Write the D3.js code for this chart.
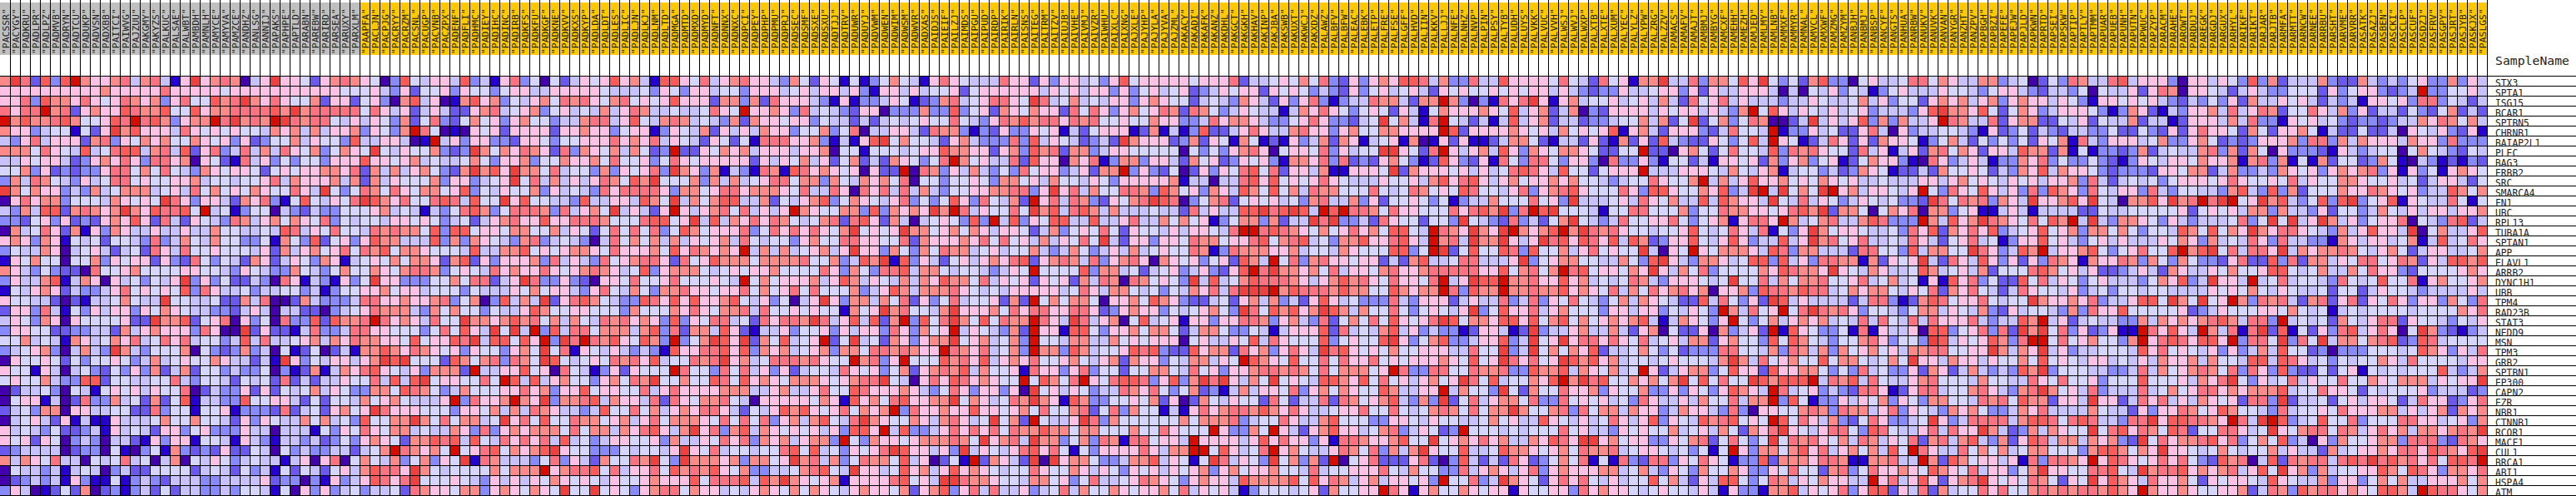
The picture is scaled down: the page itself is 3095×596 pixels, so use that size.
<!DOCTYPE html>
<html><head><meta charset="utf-8">
<script src="https://cdn.jsdelivr.net/npm/d3@7"></script>
<style>html,body{margin:0;padding:0;background:#fff}svg{display:block}</style>
</head><body><div id="chart"></div>
<script>
const levelColors = ["#4500ad","#2700d1","#6b58ef","#8888ff","#c7c1ff","#d5d5ff","#ffc0e5","#ff8989","#ff7080","#ff5a5a","#ef4040","#d60c00"];
const levelKeys = "0123456789ab".split("");
const groupColors = ["#c0c0c0","#ffc800"];
const groupSizes = [36,213];
const geneNames = ["STX3","SPTA1","ISG15","BCAR1","SPTBN5","CHRNB1","BAIAP2L1","PLEC","BAG3","ERBB2","SRC","SMARCA4","FN1","UBC","RPL13","TUBA1A","SPTAN1","APP","ELAVL1","ARRB2","DYNC1H1","UBB","TPM4","RAD23B","STAT3","NEDD9","MSN","TPM3","GRB2","SPTBN1","EP300","CAPN2","EZR","NBR1","CTNNB1","RCOR1","MACF1","CUL1","BRCA1","ABI1","HSPA4","ATM"];
const samplesA = "PACSSR PACYGY PADKRU PADLPR PADLPZ PADMVB PADRYN PADTCU PADUKP PADVSN PADXBB PAITCI PAIWVG PAJZUU PAKGMY PAKYZS PALKUC PALSAE PALWBT PAMBDH PAMNLH PAMYCE PAMYVA PAMZCE PANDHZ PANLSG PANNIJ PAPAKS PAPHPE PAPTLD PARABN".split(" ");
const samplesB = "PAREBW PARIRD PARSEA PARUXY PARXLM PAAPFA PACLJN PACPJG PACRYY PACRZM PACSNL PACUGP PACVNB PACZPX PADENF PADFLI PADHMC PADIEY PADIHC PADINC PADIRB PADKFS PADKFU PADKGF PADKNE PADKVV PADKXS PADKYP PADLDA PADLDT PADLES".split(" ");
const samplesC = "PADLIC PADLJN PADLKJ PADLNM PADLTD PADMGA PADMTD PADMXD PADMYD PADNFT PADNNX PADNXC PADPCI PADPEY PADPHP PADPMU PADPRJ PADSEC PADSMF PADSXE PADSXU PADTJJ PADTRV PADUWR PADUYJ PADVWM PADWEN PADWIM PADWSM PADWVR PADXAS".split(" ");
const samplesD = "PAIDJS PAIEIF PAILZJ PAIMDS PAIPGU PAIPUD PAIRDP PAIRIK PAIRLN PAISNS PAITEG PAITRM PAITZV PAIUJB PAIVHE PAIVMJ PAIVZR PAIWHU PAIXLC PAIXNG PAJXLE PAJYHP PAJYLA PAJYVA PAJZML PAKACY PAKADI PAKAFK PAKANZ PAKDHL PAKGCT".split(" ");
const samplesE = "PAKGKH PAKHAV PAKINP PAKJBA PAKSWB PAKUXT PAKWCJ PAKXDZ PALAWZ PALBFV PALBFW PALEAC PALEBK PALETP PALFRE PALFSE PALGFF PALHVD PALIIN PALKKV PALLJJ PALNFE PALNHZ PALNVP PALPIN PALPSY PALTYB PALUDH PALUYS PALVKK PALVUC".split(" ");
const samplesF = "PALVVH PALWSJ PALWVJ PALWXP PALXTB PALXTE PALXUM PALYEC PALYLZ PALYPW PALZRG PALZZV PAMACS PAMAFV PAMAJT PAMBMJ PAMBYG PAMCXF PAMEHH PAMEZH PAMJED PAMLMY PAMLNB PAMMXF PAMMYR PAMNAL PAMVCL PAMXWF PAMZMG PAMZYM PANBJH".split(" ");
const samplesG = "PANBMJ PANBSP PANCYF PANGTS PANHUA PANRBW PANUKV PANUVK PANVAN PANYGR PANZHT PANZPV PAPBGH PAPBZI PAPEFE PAPEJW PAPJLD PAPKWN PAPRTD PAPSEI PAPSKW PAPTIP PAPTLY PAPTMM PAPUAR PAPUEB PAPUNH PAPUTN PAPWUC PAPZYP PARACM PARAHE PAROWT".split(" ");
const samplesH = "PARDUJ PAREGK PARGDJ PARGUX PARHYL PARIKF PARIKT PARJAR PARJTB PARMFA PARMTT PARNCW PARNEE PARRBU PARSHT PARVME PARVRR PASATK PASAZJ PASBEN PASCKI PASCLP PASCUF PASDZJ PASFRV PASGPY PASJRT PASJYB PASKJX PASLGS".split(" ");

const blockA = [
"7a829 39b76 67847 8416a 67870 46a66 5",
"66666 66666 76666 68666 66566 66666 6",
"66839 77686 56876 73685 5978a 76865 5",
"8688b 78267 66987 79559 67788 8897a 7",
"b7977 89755 698b8 97367 7b8a7 87ba8 7",
"76634 55152 6a796 66486 56565 54767 4",
"43684 66627 83657 67557 65636 23557 4",
"77758 65494 58994 78492 68348 47486 5",
"44656 64236 76863 88670 65218 46353 5",
"55736 23233 68857 58543 76566 52565 6",
"37487 54364 58856 55667 45545 56847 6",
"a7576 63437 45777 45648 57565 76558 6",
"06867 73555 47656 5a863 66427 68315 9",
"43749 92787 67a76 98895 b4513 55043 2",
"33256 36232 67696 28426 54387 46757 6",
"07458 62716 37644 64464 47554 45498 4",
"67637 61545 25543 83475 47553 35175 3",
"35447 60456 42452 86485 56555 46274 6",
"16575 50557 36566 26328 53542 76246 5",
"76435 32208 55675 55566 55436 54337 5",
"36447 91476 06453 546a3 63522 43086 1",
"15467 62433 46856 56593 86445 34455 3",
"65544 20214 45754 4a554 45227 48002 7",
"26638 41536 46636 57654 43324 64044 2",
"46537 60655 55622 a7792 56806 35083 3",
"36655 22334 42746 76663 8600a 26221 4",
"55745 41764 57684 58684 55349 48445 6",
"34567 30474 3a743 55570 53237 34051 2",
"06556 52535 56534 74565 57644 241a6 3",
"65516 40453 25363 72472 55343 35031 2",
"56557 43399 25544 55843 55425 45282 4",
"02445 30541 56564 65580 24336 26254 5",
"05661 40283 37452 72591 44339 55664 2",
"24537 70664 45522 83551 55613 33282 4",
"04564 26141 16444 57557 55426 36544 7",
"64543 52234 16454 26635 63336 44044 4",
"65626 50343 04421 63661 55416 43144 3",
"23444 40233 05103 51732 32622 54053 4",
"74765 84405 45845 04705 46534 54414 6",
"05443 41454 03422 55552 45425 34152 5",
"02343 41631 15134 32444 33444 46233 0",
"36401 25270 23134 25244 33435 54150 6"
];
const blockB = [
"26787 65039 54664 93416 83505 24656 9",
"66655 56436 25563 65535 66446 66665 4",
"72662 56307 94601 79673 54675 87865 7",
"88888 58646 24642 26784 56735 64547 4",
"88546 46537 25832 57563 67553 44788 4",
"74667 36537 b8501 06562 66662 66766 3",
"65539 44664 01b46 36633 26653 55666 8",
"73576 5a546 55732 3a757 68762 83765 7",
"53666 96656 74544 57536 67355 76675 8",
"67768 27474 67532 7a796 a7758 45537 3",
"66747 27465 55736 63456 a5847 46468 7",
"4a535 87586 57756 93546 55736 45438 6",
"54658 a9768 55898 4955a 69554 43944 6",
"43355 56745 41435 89735 88873 84675 a",
"58354 55466 56534 52467 86696 68887 5",
"65855 48787 75939 95665 77557 46525 8",
"92563 69774 44937 37654 37834 54304 8",
"75685 87957 76555 49447 79565 67765 8",
"37614 56575 77627 92636 66738 46438 5",
"43575 57657 88735 65486 76686 56787 6",
"43163 5a663 33557 58824 6a833 63206 6",
"41355 66756 64555 35444 65756 64368 5",
"43334 88667 66783 57039 474a2 68975 4",
"20345 68777 43757 55354 46975 56655 5",
"92977 8b867 64855 a7767 97857 47548 7",
"83348 86655 53585 964a5 a4b39 48857 7",
"74768 77665 95669 8a499 596b3 a8b87 9",
"50241 77976 87656 36553 675a5 81654 6",
"54664 67a9a 55529 75783 875a9 54565 8",
"71476 89654 63777 2b446 69560 85413 6",
"24465 58494 9a566 5585b 94946 75536 7",
"74653 37759 87534 75556 68673 66956 6",
"52554 75675 4446b 38667 b76a3 77894 7",
"52675 6a866 65553 66574 74876 44349 5",
"57453 95577 a7585 7745a 68595 58775 6",
"15365 86577 45447 63836 76777 58577 4",
"42353 67652 77989 49548 68684 94534 6",
"33442 457b8 7675b 56895 7679a 65533 3",
"06805 75473 57365 a1874 44358 36427 5",
"42564 79886 a7545 55575 777b6 78895 8",
"31634 69868 a5556 54364 64657 65654 6",
"36345 34452 87665 77367 65765 a55a5 6"
];
const blockC = [
"67419 96584 67866 43752 65151 35754 1",
"44536 53664 55366 64564 66463 16646 4",
"85656 96662 77372 86664 31613 34651 2",
"68744 54458 65b66 76384 54326 60333 7",
"69547 87454 37276 65663 54424 24545 6",
"56613 65472 64647 66355 73580 44664 2",
"67684 65426 52518 88667 31416 9a575 5",
"47523 b2265 76746 66466 70551 55545 6",
"55635 86566 66626 46574 62572 42765 3",
"65683 a7637 14318 71986 76560 622b0 8",
"597a5 55737 47456 88577 37547 67580 5",
"88886 37756 88677 76584 48608 68484 7",
"64975 a4757 99447 25467 93576 54683 5",
"46426 b6467 85846 46b76 55773 93767 6",
"55899 56a49 47686 87545 78289 62740 4",
"58583 59756 66835 86868 657a5 656a7 7",
"57574 74656 74854 55367 55886 65582 7",
"66675 96876 76b47 47456 746a6 63753 7",
"67886 28569 77757 77785 57349 7a193 6",
"45936 77754 56566 75555 86375 38894 7",
"58556 85556 54b57 56667 46974 65474 7",
"47537 78665 66857 56858 55573 46974 7",
"33986 96966 79546 35046 a6377 47582 6",
"37555 76865 77848 55656 55175 6a785 5",
"86763 93658 84528 6887a 84694 927b3 9",
"74793 82774 96214 46355 63646 63863 7",
"65973 b357a 96a27 59456 b25a4 52763 6",
"43431 96688 96937 67456 73775 88787 6",
"78694 55878 a6745 88878 655b7 836b5 5",
"26555 b8553 85846 36245 54865 63572 6",
"587a5 57559 85967 65777 65678 8a540 6",
"55846 86666 77744 67446 85598 66676 4",
"66482 86577 85406 66665 76196 75896 6",
"58574 67688 64254 69796 56857 67b38 6",
"74685 77765 85858 36747 9548a 76557 6",
"76896 47a68 37947 65656 46399 6b493 3",
"65563 74465 86837 67467 73b53 76656 7",
"54554 6a658 45545 58959 45365 68a96 6",
"587a5 3a777 67377 56a78 47358 77594 6",
"46685 97879 65733 44578 954a6 64596 7",
"55676 66958 88949 7a765 67166 66895 6",
"53678 85766 45467 65757 65467 66572 6"
];
const blockD = [
"68654 44866 26366 45369 56666 65666 8",
"55625 66666 64656 46636 35645 62346 5",
"37845 68865 a8457 45466 36765 52454 3",
"33935 62765 76628 58636 75687 28753 4",
"55854 36879 78868 78556 55766 33486 7",
"87731 32633 65614 25666 12714 13922 4",
"42674 33383 94654 2342a 76662 37265 1",
"69776 62673 97827 73466 55555 05353 6",
"58b75 64482 96607 68137 73664 27562 3",
"73647 43538 56634 6277b 36325 02636 5",
"53556 53775 64755 46536 66667 14404 4",
"43556 67788 36a68 47558 87397 56376 4",
"35963 85472 b6848 73265 78a98 03578 2",
"a7b84 65585 a7948 97474 44544 28464 4",
"56539 3b493 65994 49446 84475 75613 5",
"56757 64665 24735 65852 65546 46654 8",
"66676 85856 47465 85a42 66366 58775 6",
"58774 56455 74347 53464 74565 58713 8",
"42564 67689 26787 48367 86076 56356 2",
"75455 43465 b5555 93774 52456 34632 6",
"69775 84656 26562 74870 87565 3a494 5",
"77865 45466 66645 86477 54535 47684 8",
"35845 56272 b5757 75066 75976 32245 2",
"47a66 67586 88668 86236 76635 45675 3",
"58a75 95877 b864a 84670 59456 16636 6",
"56b46 54372 b6619 95366 75775 24775 3",
"77a56 74573 b5547 74475 65666 05644 6",
"6b876 84573 b7739 74556 98932 29677 2",
"59786 94676 85567 54672 76635 47746 5",
"78794 75561 86636 83552 55775 48563 6",
"86986 7655b 59758 b6589 98369 37a8a 6",
"35863 66360 a5646 53448 76853 57231 4",
"77a57 64587 a7619 73355 65726 02754 6",
"67669 66567 58557 82583 75514 16867 8",
"47864 5a572 b5446 a8375 55555 75777 8",
"46868 68587 79775 77555 75586 555b6 3",
"77875 a6784 a7735 73871 88566 4b666 6",
"463a4 65468 96851 53666 68647 7bb59 6",
"0251b 27642 a0a67 75334 77946 515a8 4",
"46967 65455 86557 64653 65646 56736 7",
"4aa87 76554 77563 58445 68765 36766 4",
"79368 48446 34584 75576 56675 84656 4"
];
const blockE = [
"24456 57583 26367 69984 73384 49666 6",
"66265 65343 26356 45642 65655 65656 6",
"76426 36831 34487 74277 b7303 1868a 6",
"65441 47686 53565 26415 76667 65946 7",
"76433 56863 3245a 57418 b5424 14946 7",
"68644 78663 67557 76666 b9266 66765 6",
"75121 63472 76145 61701 62611 24775 2",
"78605 66583 6455a a6528 b6467 49637 6",
"65631 77683 82326 75312 96326 18538 8",
"89582 66471 16665 a2766 65646 45898 6",
"89695 65686 54446 55647 96896 46756 6",
"97595 74877 55585 45875 65985 54683 6",
"56564 53784 47362 55653 51344 75558 5",
"99a89 a94b9 b8875 86655 58689 7a38b 9",
"77372 44a8a 33428 65525 53a54 32834 2",
"bb898 76575 68675 9954b 876a7 6ab76 7",
"68957 89453 77966 8964b 784a7 7a646 a",
"77766 74554 76555 9935b a2595 59839 5",
"974b5 83786 65662 42794 45884 446a3 5",
"9b8a7 76758 46657 86678 88886 69578 5",
"79888 76467 97865 86658 b46a9 9b778 6",
"aaab7 98887 97755 97677 b8397 7b778 7",
"67473 42696 45333 84366 62464 48348 3",
"a8597 967a9 74755 85356 546a3 59668 4",
"88736 74382 57585 96568 a9577 69969 5",
"35414 66692 84547 94634 33126 6412a 3",
"59486 55593 56559 a6357 93346 6934a 5",
"86736 864a8 96565 75566 64485 5a34a 5",
"b9765 95585 86685 65666 76595 6a868 5",
"67887 87585 77756 b8338 85587 78339 7",
"475a5 65499 76958 56467 56a85 94557 6",
"74665 83675 76559 74466 b4755 3a527 5",
"55285 24482 87567 94373 a2584 67758 3",
"87976 86445 66855 85457 87585 77a75 5",
"34558 64479 55533 66546 55445 75644 9",
"375b6 42679 66457 83465 23b55 54545 5",
"46968 66361 88766 7955a 56768 67447 6",
"458b6 75446 87583 747a6 55944 59776 5",
"653a5 7372b 05682 22682 03942 42862 3",
"56675 54845 56668 54755 33846 76468 3",
"97777 95968 74674 66563 b5583 4a765 2",
"13555 45627 5566b 86167 55765 66165 5"
];
const blockF = [
"58542 85617 7a448 37759 6a535 27933 0",
"46432 33644 56636 26446 66404 05463 5",
"16745 56456 47428 56846 44434 46544 5",
"24703 26666 46566 46437 b5964 65464 5",
"24423 34557 4725a 25735 87002 4a464 6",
"47565 69167 42666 32485 54b13 36452 2",
"14426 21726 29432 26535 94b65 12486 2",
"57765 2255b 22067 52585 54938 78655 2",
"53663 08336 31552 41665 62736 73561 2",
"49552 5666b 44466 65475 46714 55342 3",
"76755 43455 86557 b4746 96675 65765 6",
"78965 55863 99655 76934 ab4a5 75ab6 7",
"63a44 45648 65744 94976 64a54 84653 4",
"a5554 15588 55573 55877 66568 97a27 7",
"57a54 34855 66853 56716 886b7 45784 4",
"9b7a8 78655 45569 54586 48153 6a756 6",
"89698 69497 23669 54696 34494 6a785 6",
"57468 5655a 4065b 65777 64983 77444 2",
"67755 44753 9a643 77645 99394 63887 7",
"7b895 66576 a6475 83555 57698 776a6 5",
"69674 54587 43666 545a5 58475 77855 6",
"79676 58475 86786 70667 39887 98845 7",
"65854 35747 65422 94853 62a94 64444 2",
"67555 36646 63546 53b74 856b5 8a878 6",
"79575 67679 41476 536b5 35746 76745 4",
"44674 47426 70522 60734 62b19 65335 1",
"6a688 68658 45647 72675 53959 75435 5",
"75769 24457 53523 33885 54738 74737 5",
"6a979 67455 45655 547a7 48567 55957 7",
"79476 5745b 62467 73596 62966 77535 3",
"9b7a8 95576 757a5 95855 a9799 9b487 9",
"58667 36557 33636 53697 64b84 56343 2",
"38565 64538 64464 75584 77b39 51336 4",
"78385 77476 63476 64383 06655 78738 7",
"65464 58646 93654 97895 65b95 86473 2",
"58564 43656 55745 64752 768a6 54688 5",
"986aa 67566 33657 82585 35a58 78657 4",
"67587 78456 65453 515b6 37757 96846 7",
"57581 51832 88365 86513 39277 76887 1",
"67666 77457 43653 75576 33658 55278 3",
"68685 46455 95742 64995 35874 65766 4",
"66386 76654 56554 64163 31779 46568 3"
];
const blockG = [
"56445 88576 44773 45025 38744 89466 630",
"41356 44465 54356 64324 43505 44626 870",
"74635 52676 74673 67664 65316 65656 432",
"63444 369a7 76952 57634 66653 13762 143",
"93737 446b8 74482 67722 54625 44724 412",
"68406 34455 43162 35243 24433 52253 262",
"62766 51357 42535 35265 71843 66645 733",
"84614 62785 76266 49772 71513 32372 454",
"57663 10863 46413 37683 53353 21365 466",
"76512 24275 56524 37694 76653 23332 665",
"44544 46646 75654 65646 67384 24545 356",
"46654 6b538 65964 63839 76385 46638 435",
"65453 32a85 87837 64a66 796a5 40779 6a7",
"50576 80773 56114 64144 44225 44555 556",
"79833 3b749 67a87 65859 7b4a4 37765 364",
"54453 86927 68693 45695 67377 57535 549",
"84454 86425 68451 36695 64356 46444 657",
"88553 94775 5a863 497b4 66795 35685 59b",
"17265 6a428 64963 62638 76176 68737 537",
"47644 59745 64725 55897 56462 23464 276",
"84574 51619 68352 29584 65356 44435 769",
"67754 65827 68542 48655 46345 35545 544",
"48831 27985 66854 55a76 67683 44699 5a7",
"35543 57746 54732 64554 37386 69555 556",
"84854 84866 68434 497b4 62454 43374 767",
"81644 60993 56838 2a7a5 83623 611b8 696",
"78635 53a94 65697 38bb5 85675 537b6 898",
"67564 77885 566a7 476a4 63445 55496 856",
"54575 a6647 66465 57595 65466 45464 766",
"84533 62762 47434 397a3 55544 33484 756",
"48544 67855 54755 44865 85563 55595 556",
"88612 68845 57864 378a7 56483 44484 575",
"65736 53775 54878 59772 664a6 62486 846",
"74683 65437 67533 47684 44475 44263 668",
"58633 45a63 48888 47998 58984 4388a 699",
"39854 46848 66a74 23747 655a5 89687 598",
"87465 82784 79437 26984 77476 732a5 867",
"57495 b8644 85757 45775 55379 97576 a66",
"17784 4b729 75664 61838 876b6 98656 868",
"58667 65976 58466 357a6 65588 954a7 889",
"4b684 69626 78a65 65875 265a6 97648 667",
"69926 48274 55868 55787 87887 976b7 667"
];
const blockH = [
"66465 39372 44473 22743 43563 37364",
"66542 46433 55526 35663 234b3 35564",
"43536 27446 56424 34166 56388 35424",
"66748 46872 55864 73624 42532 57242",
"66647 48331 65645 32332 34476 87574",
"68665 27526 67514 22522 40654 63261",
"67523 23666 73883 74766 64766 38333",
"47837 27506 33321 64345 50575 43254",
"57667 17837 15172 55237 51043 12132",
"77247 33437 65636 76783 61635 16765",
"66568 65565 84655 77655 64524 66425",
"54437 94393 72555 76687 65634 49757",
"8b8ab 56a79 43593 9a356 91654 48515",
"25656 47737 44362 55347 54646 64667",
"34445 835a5 a46a7 46356 68054 38924",
"75957 6a768 86543 74696 64a05 74469",
"63745 48638 44331 76466 45714 94586",
"79a58 4886a 47677 87546 75246 64457",
"53326 82293 82774 65885 68726 49979",
"44657 55699 54574 47586 63255 55676",
"34a66 4b458 45543 85459 55816 75567",
"44656 57546 54452 55246 55434 44464",
"5a56b 73878 42782 68265 86366 37538",
"23465 55665 75451 45455 55455 55768",
"67897 4883b 45452 75468 82655 43546",
"4b748 18a29 15263 89468 605a7 32134",
"6996b 3885a 385a4 77578 92398 45555",
"54636 34749 55230 33355 54597 63648",
"74755 49949 86453 54557 64855 55466",
"78758 38639 32252 56154 54555 94347",
"4768a 53645 84655 85576 57774 6566a",
"68867 67779 45586 65254 55563 44423",
"47656 2883a 24452 56466 52486 62368",
"75697 55438 45565 86667 74646 72767",
"8876b 84ab9 34595 58355 58866 45637",
"25588 645a6 57885 87468 67477 6787a",
"78968 35759 34063 75567 73888 32876",
"54575 45574 64427 45667 68869 8769a",
"53297 80492 87884 898a8 97868 5998b",
"67678 4695a 67374 55669 75986 37768",
"52656 65496 54473 66357 57446 66757",
"65566 72487 39788 67659 974b9 88657"
];

const blocks = [blockA,blockB,blockC,blockD,blockE,blockF,blockG,blockH];
const sampleBlocks = [samplesA,samplesB,samplesC,samplesD,samplesE,samplesF,samplesG,samplesH];
const sampleNames = sampleBlocks.flat();
const matrix = geneNames.map((g,r)=>blocks.map(b=>b[r].replace(/\s/g,"")).join(""));

const W=3095,H=596,cell=12,gridTop=91;
const mono="'DejaVu Sans Mono',monospace";
const svg=d3.select("#chart").append("svg").attr("width",W).attr("height",H).style("background","#fff");
const x=d3.scaleBand().domain(d3.range(sampleNames.length)).range([0,cell*sampleNames.length]);
const y=d3.scaleBand().domain(geneNames).range([gridTop,gridTop+cell*geneNames.length]);
const color=d3.scaleOrdinal().domain(levelKeys).range(levelColors);
const groupOf=i=>i<groupSizes[0]?0:1;

svg.append("g").selectAll("rect").data(sampleNames).join("rect")
  .attr("x",(d,i)=>x(i)).attr("y",3).attr("width",x.bandwidth()).attr("height",63)
  .attr("fill",(d,i)=>groupColors[groupOf(i)]).attr("shape-rendering","crispEdges");

const cells=[];
matrix.forEach((row,r)=>{for(let c=0;c<row.length;c++)cells.push({r,c,v:row[c]});});
svg.append("g").selectAll("rect").data(cells).join("rect")
  .attr("x",d=>x(d.c)).attr("y",d=>y(geneNames[d.r]))
  .attr("width",x.bandwidth()).attr("height",y.bandwidth())
  .attr("fill",d=>color(d.v)).attr("shape-rendering","crispEdges");

svg.append("g").selectAll("text").data(sampleNames).join("text")
  .attr("transform",(d,i)=>`translate(${x(i)+10.5},65) rotate(-90)`)
  .attr("font-family",mono).attr("font-size","11px").attr("fill","#222")
  .attr("textLength",d=>(d.length+2)*6.85).attr("lengthAdjust","spacingAndGlyphs")
  .text(d=>`"${d}"`);

const gl=svg.append("g").attr("stroke","#000").attr("stroke-width",1).attr("shape-rendering","crispEdges");
gl.selectAll("line.v").data(d3.range(1,sampleNames.length+1)).join("line").attr("class","v")
  .attr("x1",i=>i*cell+.5).attr("x2",i=>i*cell+.5).attr("y1",0).attr("y2",gridTop+cell*geneNames.length);
gl.selectAll("line.h").data(d3.range(0,geneNames.length+1)).join("line").attr("class","h")
  .attr("x1",0).attr("x2",W).attr("y1",i=>gridTop+i*cell+.5).attr("y2",i=>gridTop+i*cell+.5);

svg.append("g").selectAll("text").data(geneNames).join("text")
  .attr("x",2998).attr("y",d=>y(d)+y.bandwidth()+.5)
  .attr("font-family",mono).attr("font-size","12.3px").attr("fill","#222")
  .attr("textLength",d=>d.length*6.8).attr("lengthAdjust","spacingAndGlyphs")
  .text(d=>d);
svg.append("text").attr("x",2998).attr("y",78)
  .attr("font-family",mono).attr("font-size","13.7px").attr("fill","#222")
  .attr("textLength",89).attr("lengthAdjust","spacingAndGlyphs")
  .text("SampleName");
</script></body></html>
